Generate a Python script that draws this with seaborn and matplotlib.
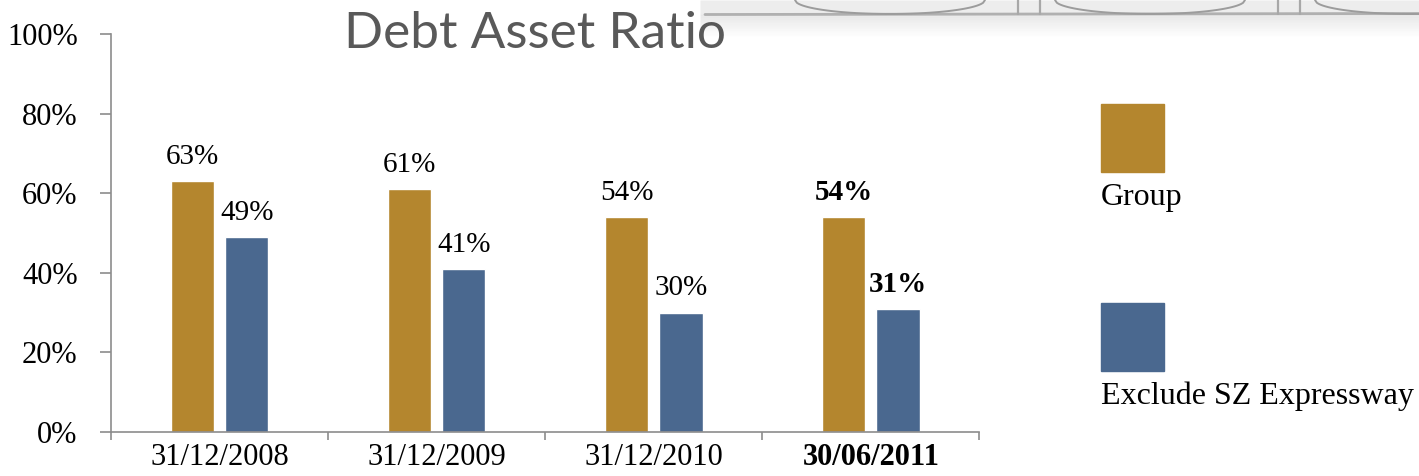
import numpy as np
import pandas as pd
import matplotlib
matplotlib.use("Agg")
import matplotlib.pyplot as plt
import seaborn as sns
from matplotlib.patches import Rectangle

# chart data
dates = ["31/12/2008", "31/12/2009", "31/12/2010", "30/06/2011"]
series = ["Group", "Exclude SZ Expressway"]
group_ratio = [63, 61, 54, 54]
exclude_ratio = [49, 41, 30, 31]
y_ticks = [0, 20, 40, 60, 80, 100]
colors = ["#B4862E", "#4A688F"]

df = pd.DataFrame({
    "date": dates * 2,
    "series": [series[0]] * 4 + [series[1]] * 4,
    "ratio": group_ratio + exclude_ratio,
})

sns.set_style("white")
plt.rcParams["font.family"] = ["Liberation Serif", "DejaVu Serif"]

fig = plt.figure(figsize=(14.19, 4.76), dpi=100)

# faint decorative band at the top right (behind everything), pixel coords
deco = fig.add_axes([700 / 1419, 1 - 50 / 476, 1 - 700 / 1419, 50 / 476], zorder=0)
px = np.linspace(700, 1419, 600)
deco.fill_between(px, 0, 14, color="#ededed", lw=0)
for k in range(12):
    deco.fill_between(px, 14 + k * 1.8, 14 + (k + 1) * 1.8, color="#d0d0d0",
                      alpha=0.5 * (1 - k / 12), lw=0)
deco.plot([705, 1419], [14.5, 13.5], color="#b0b0b0", lw=2)
for c in [890, 1150, 1410]:
    u = np.linspace(-95, 95, 100)
    deco.plot(c + u, 14 * np.sqrt(1 - (u / 95) ** 2), color="#9c9c9c", lw=1.4)
for p in [1018, 1040, 1278, 1300]:
    deco.plot([p, p], [0, 14], color="#a8a8a8", lw=1.6)
deco.set_xlim(700, 1419)
deco.set_ylim(50, 0)
deco.axis("off")

ax = fig.add_axes([0.0782, 0.0924, 0.612, 0.8362], zorder=1)
ax.patch.set_alpha(0)

sns.barplot(data=df, x="date", y="ratio", hue="series", order=dates,
            hue_order=series, palette=colors, width=0.5, gap=0.2,
            saturation=1, legend=False, ax=ax)

ax.set_xlim(-0.5, 3.5)
ax.set_ylim(0, 100)
ax.set_xlabel("")
ax.set_ylabel("")
ax.set_yticks(y_ticks)
ax.set_yticklabels([f"{v}%" for v in y_ticks], fontsize=22)
ax.set_xticks(range(len(dates)))
ax.set_xticklabels(dates, fontsize=22, color="black")
ax.get_xticklabels()[-1].set_fontweight("bold")
ax.set_xticks(np.arange(-0.5, 3.6, 1), minor=True)
ax.tick_params(axis="x", which="major", length=0, pad=8)
ax.tick_params(axis="x", which="minor", length=6, width=1.2, color="#8c8c8c",
               direction="out", bottom=True)
ax.tick_params(axis="y", length=8, width=1.2, color="#8c8c8c", pad=16,
               direction="out", left=True, labelcolor="black")

for side in ["top", "right"]:
    ax.spines[side].set_visible(False)
for side in ["left", "bottom"]:
    ax.spines[side].set_color("#8c8c8c")
    ax.spines[side].set_linewidth(1.2)

# value labels
for i, cont in enumerate(ax.containers):
    for j, bar in enumerate(cont):
        h = bar.get_height()
        ax.annotate(f"{h:.0f}%", (bar.get_x() + bar.get_width() / 2, h),
                    xytext=(0, 8), textcoords="offset points",
                    ha="center", va="bottom", fontsize=21, color="black",
                    fontweight="bold" if j == len(dates) - 1 else "normal")

# title
fig.text(0.377, 1 - 48 / 476, "Debt Asset Ratio", fontsize=37, color="#595959",
         family=["Lato", "DejaVu Sans"], ha="center", va="baseline", zorder=3)

# legend drawn as squares with labels underneath
leg_y = [0.638, 0.220]
for c, name, y in zip(colors, series, leg_y):
    fig.patches.append(Rectangle((1101 / 1419, y), 63 / 1419, 68 / 476,
                                 transform=fig.transFigure, color=c))
    fig.text(1101 / 1419, y - 0.022, name, fontsize=23, ha="left", va="top",
             color="black")

fig.savefig("out.png", dpi=100)
